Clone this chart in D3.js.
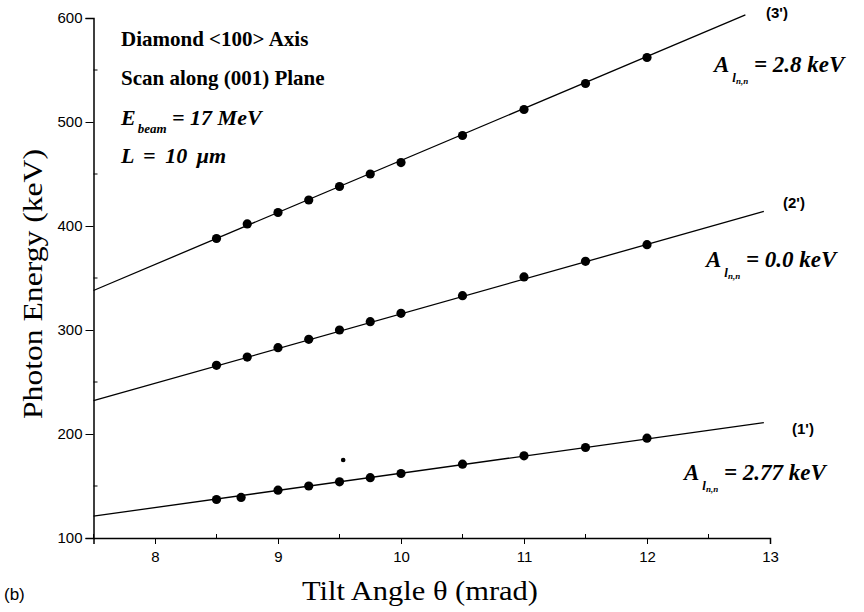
<!DOCTYPE html>
<html>
<head>
<meta charset="utf-8">
<script src="https://cdn.jsdelivr.net/npm/d3@7"></script>
<style>
  body { margin: 0; background: #fff; }
  svg { display: block; }
  .tick-label { font-family: "Liberation Sans", Arial, sans-serif; font-size: 15px; fill: #000; }
  .axis-title { font-family: "Liberation Serif", "Times New Roman", serif; font-size: 28px; fill: #000; }
  .note { font-family: "Liberation Serif", "Times New Roman", serif; font-weight: bold; font-size: 21px; fill: #000; }
  .curve-tag { font-family: "Liberation Sans", Arial, sans-serif; font-weight: bold; font-size: 15px; fill: #000; }
</style>
</head>
<body>
<svg id="chart" width="864" height="612"></svg>
<script>
// tilt angle (mrad) of the measured points
const thetaMain = [8.5, 8.75, 9, 9.25, 9.5, 9.75, 10, 10.5, 11, 11.5, 12];
const thetaLow = [8.5, 8.7, 9, 9.25, 9.5, 9.75, 10, 10.5, 11, 11.5, 12];

// photon energy (keV) for the three harmonics
const energy3 = [388, 402, 413, 425, 438, 450, 461, 487, 512, 537, 562];
const energy2 = [266, 274, 283, 291, 300, 308, 316, 333, 351, 366, 382];
const energy1 = [137, 139, 146, 150, 154, 158, 162, 171, 179, 187, 196];

// linear fits, given as end points in data units
const fit3 = { theta: [7.5, 12.8], energy: [338, 603] };
const fit2 = { theta: [7.5, 12.95], energy: [232, 414] };
const fit1 = { theta: [7.5, 12.95], energy: [121, 211] };

// lone dot above the lowest curve
const strayDot = [9.53, 175];

const xMajor = [8, 9, 10, 11, 12, 13];
const xMinor = [7.5, 8.5, 9.5, 10.5, 11.5, 12.5];
const yMajor = [100, 200, 300, 400, 500, 600];
const yMinor = [150, 250, 350, 450, 550];

const svg = d3.select('#chart');

const x = d3.scaleLinear().domain([7.5, 13]).range([93.5, 770]);
const y = d3.scaleLinear().domain([100, 600]).range([538, 18]);

// x axis
const xAxis = svg.append('g').attr('transform', `translate(0,${y(100)})`);
xAxis.call(d3.axisBottom(x).tickValues(xMajor).tickSize(6).tickFormat(d3.format('d')));
xAxis.append('g').selectAll('line').data(xMinor).join('line')
  .attr('x1', d => x(d)).attr('x2', d => x(d))
  .attr('y1', 0).attr('y2', -4)
  .attr('stroke', '#000');
xAxis.selectAll('.tick text').attr('class', 'tick-label').attr('dy', '1.0em').attr('font-size', null).attr('font-family', null);

// y axis
const yAxis = svg.append('g').attr('transform', `translate(${x(7.5)},0)`);
yAxis.call(d3.axisLeft(y).tickValues(yMajor).tickSize(8).tickFormat(d3.format('d')));
yAxis.append('g').selectAll('line').data(yMinor).join('line')
  .attr('x1', 0).attr('x2', 4)
  .attr('y1', d => y(d)).attr('y2', d => y(d))
  .attr('stroke', '#000');
yAxis.selectAll('.tick text').attr('class', 'tick-label').attr('x', -11).attr('font-size', null).attr('font-family', null);

svg.selectAll('.domain').attr('stroke', '#000').attr('stroke-width', 1.5);

// fitted lines
const fits = [fit1, fit2, fit3];
const line = d3.line().x(d => x(d[0])).y(d => y(d[1]));
svg.append('g').selectAll('path').data(fits).join('path')
  .attr('d', f => line(d3.zip(f.theta, f.energy)))
  .attr('fill', 'none')
  .attr('stroke', '#000')
  .attr('stroke-width', 1.3);

// measured points
const series = [
  d3.zip(thetaLow, energy1),
  d3.zip(thetaMain, energy2),
  d3.zip(thetaMain, energy3)
];
svg.append('g').selectAll('g').data(series).join('g')
  .selectAll('circle').data(d => d).join('circle')
  .attr('cx', d => x(d[0]))
  .attr('cy', d => y(d[1]))
  .attr('r', 4.6)
  .attr('fill', '#000');

svg.append('circle')
  .attr('cx', x(strayDot[0])).attr('cy', y(strayDot[1]))
  .attr('r', 2.3).attr('fill', '#000');

// axis titles (the scan is stretched, so fix their lengths)
svg.append('text').attr('class', 'axis-title')
  .attr('x', 420).attr('y', 600).attr('text-anchor', 'middle')
  .attr('textLength', 236).attr('lengthAdjust', 'spacingAndGlyphs')
  .text('Tilt Angle θ (mrad)');
svg.append('text').attr('class', 'axis-title')
  .attr('transform', 'translate(42,284) rotate(-90)')
  .attr('text-anchor', 'middle')
  .attr('textLength', 270).attr('lengthAdjust', 'spacingAndGlyphs')
  .text('Photon Energy (keV)');
svg.append('text').attr('class', 'tick-label')
  .attr('x', 4).attr('y', 600).style('font-size', '17px')
  .text('(b)');

// experiment notes, top left
svg.append('text').attr('class', 'note').attr('x', 121).attr('y', 46).text('Diamond <100> Axis');
svg.append('text').attr('class', 'note').attr('x', 121).attr('y', 85).text('Scan along (001) Plane');
const eb = svg.append('text').attr('class', 'note').attr('x', 121).attr('y', 125)
  .style('font-style', 'italic').style('font-size', '22px');
eb.append('tspan').text('E');
eb.append('tspan').attr('dx', 2).attr('dy', 8).style('font-size', '13px').text('beam');
eb.append('tspan').attr('dy', -8).text(' = 17 MeV');
svg.append('text').attr('class', 'note').attr('x', 121).attr('y', 163)
  .style('font-style', 'italic').style('font-size', '22px').style('word-spacing', '4px')
  .text('L = 10 μm');

// curve tags and amplitude labels on the right
const tags = [
  { tag: "(3')", tx: 766, ty: 18, value: '2.8', ax: 714, ay: 72 },
  { tag: "(2')", tx: 783, ty: 208, value: '0.0', ax: 706, ay: 267 },
  { tag: "(1')", tx: 792, ty: 434, value: '2.77', ax: 684, ay: 480 }
];
tags.forEach(t => {
  svg.append('text').attr('class', 'curve-tag').attr('x', t.tx).attr('y', t.ty).text(t.tag);
  const a = svg.append('text').attr('class', 'note').attr('x', t.ax).attr('y', t.ay)
    .style('font-style', 'italic').style('font-size', '23px');
  a.append('tspan').text('A');
  a.append('tspan').attr('dx', 3).attr('dy', 10).style('font-size', '13px').text('l');
  a.append('tspan').attr('dy', 2).style('font-size', '9px').text('n,n');
  a.append('tspan').attr('dy', -12).text(` = ${t.value} keV`);
});
</script>
</body>
</html>
